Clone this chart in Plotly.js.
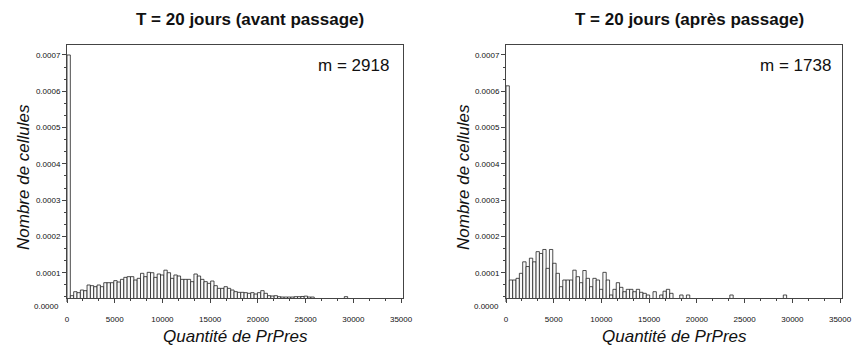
<!DOCTYPE html>
<html><head><meta charset="utf-8">
<script src="https://cdn.plot.ly/plotly-3.0.1.min.js"></script>
<style>body{margin:0;background:#fff}#chart{width:852px;height:345px}</style>
</head><body><div id="chart"></div>
<script>
const binWidth = 350;
const leftTitle = "T = 20 jours (avant passage)";
const rightTitle = "T = 20 jours (après passage)";
const leftMean = "m = 2918";
const rightMean = "m = 1738";
const xTitle = "Quantité de PrPres";
const yTitle = "Nombre de cellules";
const xTickVals = [0, 5000, 10000, 15000, 20000, 25000, 30000, 35000];
const xTickText = ["0", "5000", "10000", "15000", "20000", "25000", "30000", "35000"];
const yTickVals = [0.0001, 0.0002, 0.0003, 0.0004, 0.0005, 0.0006, 0.0007];
const yTickText = ["0.0001", "0.0002", "0.0003", "0.0004", "0.0005", "0.0006", "0.0007"];
const yZeroLabel = "0.0000";

const leftValues = [
  0.000700, 0.0000367, 0.0000477, 0.0000450, 0.0000523, 0.0000505, 0.0000661, 0.0000643, 0.0000615, 0.0000661,
  0.0000615, 0.0000725, 0.0000725, 0.0000725, 0.0000781, 0.0000744, 0.0000817, 0.0000872, 0.0000891, 0.0000891,
  0.0000799, 0.0000845, 0.0000983, 0.0000891, 0.0001010, 0.0001000, 0.0000872, 0.0000964, 0.0000937, 0.0001070,
  0.0001000, 0.0000845, 0.0000937, 0.0000909, 0.0000817, 0.0000817, 0.0000817, 0.0000753, 0.0000964, 0.0000909,
  0.0000817, 0.0000753, 0.0000707, 0.0000771, 0.0000643, 0.0000569, 0.0000569, 0.0000615, 0.0000569, 0.0000523,
  0.0000478, 0.0000459, 0.0000459, 0.0000450, 0.0000432, 0.0000450, 0.0000413, 0.0000450, 0.0000505, 0.0000432,
  0.0000367, 0.0000358, 0.0000367, 0.0000339, 0.0000330, 0.0000330, 0.0000330, 0.0000330, 0.0000340, 0.0000340,
  0.0000345, 0.0000355, 0.0000330, 0.0000330, 0, 0, 0, 0, 0, 0,
  0, 0, 0, 0.0000340, 0, 0, 0, 0, 0, 0,
  0, 0, 0, 0, 0, 0, 0, 0, 0, 0
];
const rightValues = [
  0.000615, 0.0000799, 0.0000799, 0.0000845, 0.0000983, 0.0001300, 0.0001170, 0.0001400, 0.0001300, 0.0001580,
  0.0001530, 0.0001640, 0.0001120, 0.0001640, 0.0001260, 0.0000983, 0.0000615, 0.0000799, 0.0000799, 0.0000799,
  0.0001070, 0.0000890, 0.0000725, 0.0001060, 0.0000845, 0.0000615, 0.0000845, 0.0000799, 0.0000542, 0.0001010,
  0.0000799, 0.0000386, 0.0000542, 0.0000725, 0.0000597, 0.0000477, 0.0000542, 0.0000542, 0.0000477, 0.0000542,
  0.0000460, 0.0000432, 0.0000386, 0, 0.0000477, 0, 0.0000386, 0.0000490, 0.0000542, 0.0000432,
  0, 0, 0.0000386, 0, 0.0000386, 0, 0, 0, 0, 0,
  0, 0, 0, 0, 0, 0, 0, 0.0000386, 0, 0,
  0, 0, 0, 0, 0, 0, 0, 0, 0, 0,
  0, 0, 0, 0.0000386, 0, 0, 0, 0, 0, 0,
  0, 0, 0, 0, 0, 0, 0, 0, 0, 0
];

const binCenters = leftValues.map((_, i) => i * binWidth + binWidth / 2);

const W = 852, H = 345, MT = 45, MB = 47;
const px = X => X / W;
const py = Y => (H - MB - Y) / (H - MT - MB);
const FONT = "Liberation Sans, Arial, sans-serif";
const TXT = "#111";

const barStyle = {
  type: "bar", width: binWidth,
  marker: {color: "#fbfbfb", line: {color: "#222", width: 0.8}},
  hoverinfo: "skip", showlegend: false
};

const traces = [
  Object.assign({x: binCenters, y: leftValues, xaxis: "x", yaxis: "y"}, barStyle),
  Object.assign({x: binCenters, y: rightValues, xaxis: "x2", yaxis: "y2"}, barStyle)
];

function xAxis(domain, anchor) {
  return {
    domain: domain, anchor: anchor, range: [0, 35200],
    tickvals: xTickVals, ticktext: xTickText,
    ticks: "outside", ticklen: 4, tickcolor: "#444", tickwidth: 1,
    minor: {dtick: 5000 / 3, tick0: 0, ticks: "outside", ticklen: 2, tickcolor: "#444"},
    showline: true, linecolor: "#444", linewidth: 1, mirror: true,
    showgrid: false, zeroline: false,
    ticklabelstandoff: 9,
    tickfont: {family: FONT, size: 8, color: TXT}
  };
}
function yAxis(domain, anchor) {
  return {
    domain: [0, 1], anchor: anchor, range: [0.0000303, 0.0007275],
    tickvals: yTickVals, ticktext: yTickText,
    ticks: "outside", ticklen: 4, tickcolor: "#444", tickwidth: 1,
    minor: {dtick: 0.0001 / 3, tick0: 0, ticks: "outside", ticklen: 2, tickcolor: "#444"},
    showline: true, linecolor: "#444", linewidth: 1, mirror: true,
    showgrid: false, zeroline: false,
    tickfont: {family: FONT, size: 8, color: TXT}
  };
}

const ann = (text, x, y, opts) => Object.assign({
  text: text, x: px(x), y: py(y), xref: "paper", yref: "paper",
  showarrow: false, xanchor: "center", yanchor: "middle",
  font: {family: FONT, size: 17, color: TXT}
}, opts || {});

const layout = {
  width: W, height: H,
  margin: {l: 0, r: 0, t: MT, b: MB, pad: 0},
  paper_bgcolor: "#fff", plot_bgcolor: "#fff",
  bargap: 0,
  xaxis: xAxis([67 / W, 403 / W], "y"),
  yaxis: yAxis([0, 1], "x"),
  xaxis2: xAxis([506 / W, 842 / W], "y2"),
  yaxis2: yAxis([0, 1], "x2"),
  annotations: [
    ann("<b>" + leftTitle + "</b>", 250, 20),
    ann("<b>" + rightTitle + "</b>", 689, 20),
    ann(leftMean, 391, 65, {xanchor: "right"}),
    ann(rightMean, 833, 65, {xanchor: "right"}),
    ann("<i>" + xTitle + "</i>", 235, 336),
    ann("<i>" + xTitle + "</i>", 674, 336),
    ann("<i>" + yTitle + "</i>", 23, 177, {textangle: -90}),
    ann("<i>" + yTitle + "</i>", 463, 177, {textangle: -90}),
    ann(yZeroLabel, 61, 306, {xanchor: "right", font: {family: FONT, size: 8, color: TXT}}),
    ann(yZeroLabel, 501, 306, {xanchor: "right", font: {family: FONT, size: 8, color: TXT}})
  ],
  shapes: [
    {type: "line", xref: "paper", yref: "paper", x0: px(67), x1: px(67), y0: py(298), y1: py(302), line: {color: "#444", width: 1}},
    {type: "line", xref: "paper", yref: "paper", x0: px(506), x1: px(506), y0: py(298), y1: py(302), line: {color: "#444", width: 1}}
  ]
};

Plotly.newPlot("chart", traces, layout, {staticPlot: true, displayModeBar: false});
</script>
</body></html>
